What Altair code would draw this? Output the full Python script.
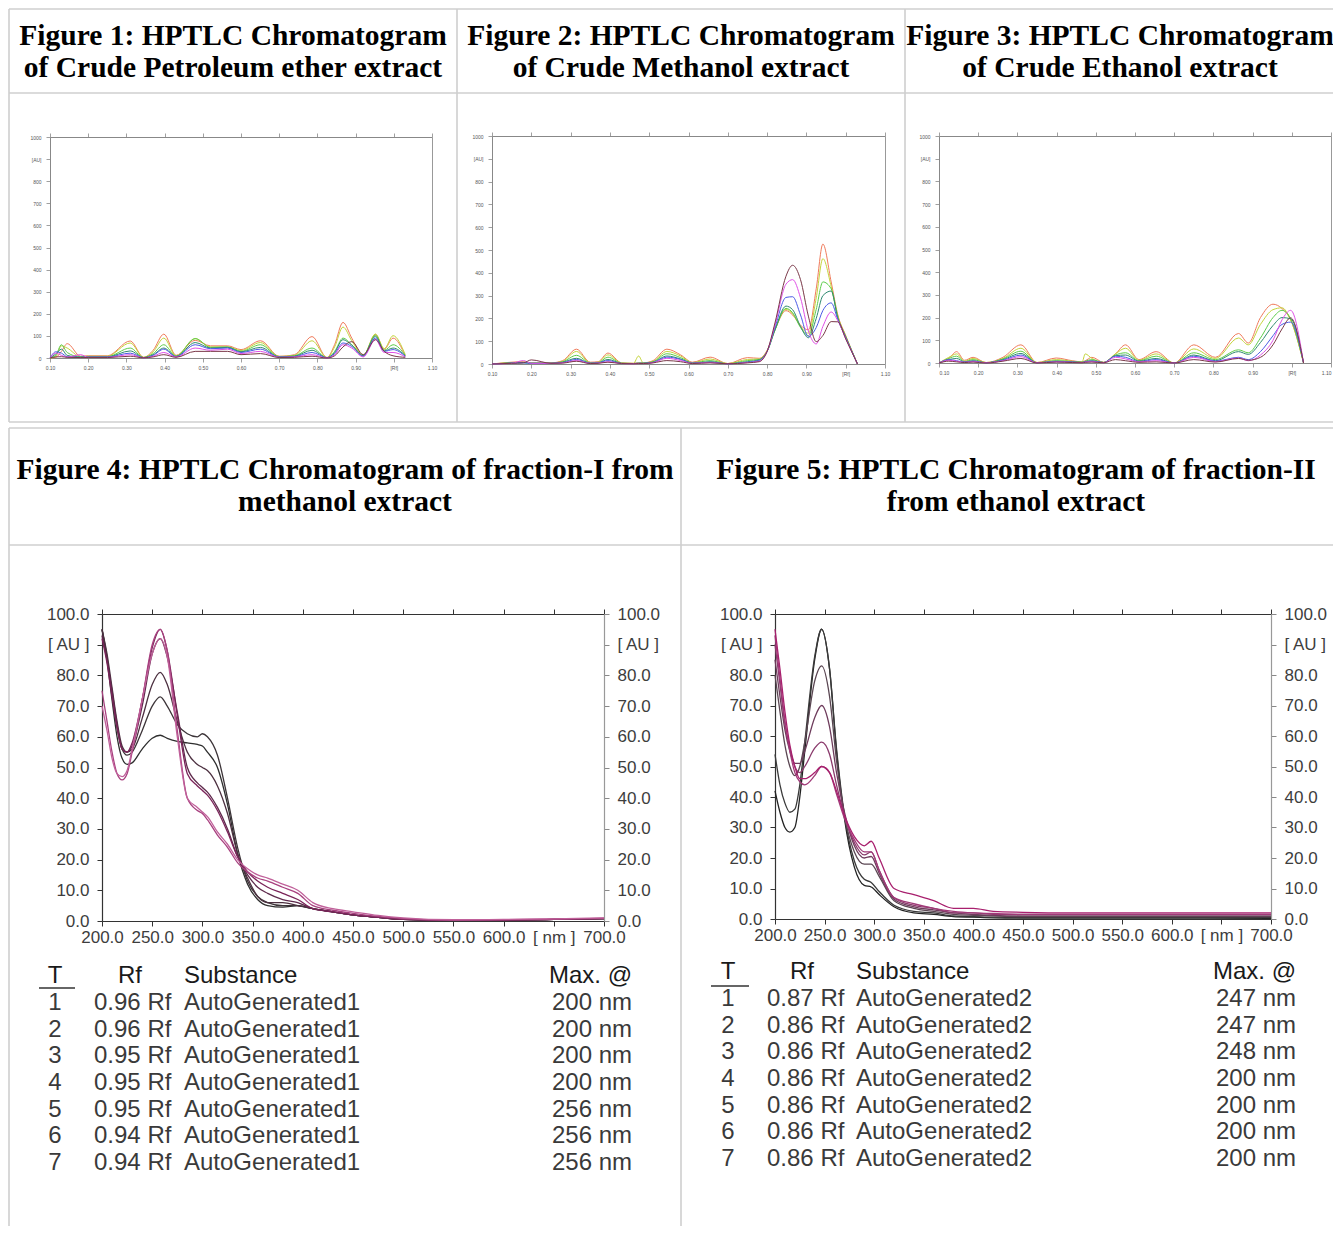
import altair as alt
import pandas as pd

W, H = 1325, 1218
SERIF = "Liberation Serif"
SANS = "Liberation Sans"
GRID = "#cfcfcf"

# ---------------- titles ----------------
title_fig1 = ["Figure 1: HPTLC Chromatogram", "of Crude Petroleum ether extract"]
title_fig2 = ["Figure 2: HPTLC Chromatogram", "of Crude Methanol extract"]
title_fig3 = ["Figure 3: HPTLC Chromatogram", "of Crude Ethanol extract"]
title_fig4 = ["Figure 4: HPTLC Chromatogram of fraction-I from", "methanol extract"]
title_fig5 = ["Figure 5: HPTLC Chromatogram of fraction-II", "from ethanol extract"]

# ---------------- chromatogram tracks ----------------
tracks7 = ["orange", "yellowgreen", "green", "teal", "blue", "magenta", "brown"]
track_colors = ["#f07a5a", "#c4d43a", "#5ccc4a", "#2f8a70", "#4a5ae6", "#e050e6", "#7a3848"]

# Figure 1: crude petroleum ether extract
rf1 = [0.10, 0.115, 0.13, 0.145, 0.18, 0.20, 0.25, 0.31, 0.345, 0.37, 0.398, 0.43, 0.48, 0.52,
       0.565, 0.60, 0.651, 0.70, 0.74, 0.786, 0.825, 0.845, 0.867, 0.89, 0.92, 0.952, 0.975, 0.998, 1.03]
pe_orange = [0, 3, 30, 65, 8, 10, 10, 77, 3, 35, 108, 12, 80, 55, 55, 38, 78, 8, 15, 97, 2, 60, 161, 90, 10, 106, 40, 90, 10]
pe_yellowgreen = [0, 6, 55, 45, 6, 8, 8, 68, 3, 28, 90, 10, 88, 50, 50, 34, 70, 7, 12, 78, 2, 50, 140, 78, 12, 109, 42, 101, 15]
pe_green = [0, 12, 60, 25, 5, 6, 6, 45, 2, 20, 60, 8, 88, 48, 50, 30, 60, 6, 10, 45, 1, 30, 90, 60, 12, 103, 35, 60, 12]
pe_teal = [0, 18, 40, 12, 4, 5, 5, 32, 2, 15, 45, 7, 70, 45, 48, 28, 48, 5, 8, 35, 1, 25, 83, 58, 10, 98, 32, 45, 10]
pe_blue = [0, 28, 22, 6, 3, 4, 4, 22, 1, 12, 40, 6, 60, 42, 45, 25, 40, 4, 6, 25, 1, 20, 68, 52, 8, 90, 30, 38, 8]
pe_magenta = [0, 22, 12, 4, 15, 3, 3, 15, 1, 8, 25, 5, 45, 35, 40, 20, 30, 3, 5, 15, 0, 15, 60, 45, 5, 83, 25, 25, 5]
pe_brown = [0, 5, 6, 3, 2, 2, 2, 8, 1, 5, 15, 3, 30, 30, 30, 15, 20, 2, 3, 8, 0, 10, 50, 74, 15, 83, 30, 10, 3]

# Figure 2: crude methanol extract
rf2 = [0.10, 0.15, 0.18, 0.20, 0.25, 0.28, 0.315, 0.35, 0.37, 0.395, 0.43, 0.46, 0.473, 0.485, 0.51,
       0.545, 0.58, 0.61, 0.655, 0.70, 0.75, 0.78, 0.80, 0.82, 0.848, 0.865, 0.885, 0.905, 0.925,
       0.942, 0.963, 0.98, 1.00, 1.03]
me_orange = [0, 8, 10, 5, 5, 15, 65, 8, 10, 48, 5, 3, 5, 5, 15, 65, 40, 8, 30, 2, 28, 25, 60, 150, 234, 215, 170, 150, 330, 526, 360, 215, 125, 0]
me_yellowgreen = [0, 6, 8, 4, 4, 12, 55, 6, 8, 40, 4, 3, 35, 5, 12, 55, 35, 6, 22, 2, 20, 22, 58, 150, 240, 220, 165, 135, 290, 462, 340, 210, 122, 0]
me_green = [0, 5, 6, 4, 4, 10, 38, 5, 6, 30, 3, 2, 4, 4, 10, 45, 28, 5, 15, 1, 15, 20, 55, 148, 244, 225, 160, 125, 240, 360, 330, 205, 120, 0]
me_teal = [0, 4, 6, 3, 3, 8, 25, 4, 5, 20, 3, 2, 3, 3, 8, 35, 22, 4, 10, 1, 10, 18, 55, 150, 254, 238, 165, 115, 200, 300, 320, 200, 118, 0]
me_blue = [0, 4, 5, 3, 3, 6, 20, 3, 5, 15, 2, 2, 3, 3, 7, 30, 20, 3, 8, 1, 8, 15, 55, 160, 292, 295, 215, 120, 160, 235, 268, 195, 115, 0]
me_magenta = [0, 3, 15, 3, 3, 5, 15, 3, 4, 10, 2, 1, 2, 2, 6, 25, 15, 3, 6, 1, 6, 12, 55, 170, 350, 370, 290, 145, 88, 165, 228, 190, 112, 0]
me_brown = [0, 3, 5, 18, 3, 4, 12, 2, 3, 8, 2, 1, 2, 2, 5, 15, 10, 2, 5, 1, 5, 10, 55, 180, 385, 433, 370, 210, 98, 125, 186, 185, 110, 0]

# Figure 3: crude ethanol extract
rf3 = [0.10, 0.125, 0.145, 0.165, 0.187, 0.22, 0.263, 0.309, 0.35, 0.399, 0.44, 0.465, 0.473, 0.49,
       0.52, 0.55, 0.576, 0.61, 0.654, 0.70, 0.75, 0.805, 0.864, 0.889, 0.92, 0.952, 0.975, 0.997, 1.03]
et_orange = [0, 20, 50, 12, 25, 2, 25, 80, 2, 22, 10, 5, 10, 25, 3, 40, 80, 15, 50, 0, 80, 25, 130, 88, 200, 259, 240, 190, 0]
et_yellowgreen = [0, 25, 40, 8, 20, 2, 20, 65, 2, 15, 8, 4, 40, 20, 3, 40, 65, 12, 40, 0, 62, 20, 110, 80, 170, 235, 243, 190, 0]
et_green = [0, 20, 30, 6, 15, 1, 18, 52, 1, 10, 6, 3, 8, 15, 2, 35, 45, 10, 30, 0, 45, 15, 58, 45, 110, 200, 232, 195, 0]
et_teal = [0, 15, 20, 5, 10, 1, 15, 42, 1, 8, 5, 3, 6, 10, 2, 32, 35, 8, 20, 0, 35, 10, 50, 38, 90, 165, 200, 195, 0]
et_blue = [0, 15, 10, 4, 8, 1, 12, 35, 1, 6, 4, 2, 5, 8, 2, 30, 25, 6, 15, 0, 30, 8, 25, 15, 50, 120, 170, 180, 0]
et_magenta = [0, 12, 8, 3, 6, 1, 10, 28, 1, 5, 3, 2, 4, 6, 1, 25, 18, 5, 10, 0, 25, 6, 22, 10, 35, 100, 190, 232, 0]
et_brown = [0, 8, 5, 2, 4, 0, 8, 20, 0, 4, 2, 1, 3, 4, 1, 15, 10, 3, 5, 0, 15, 4, 20, 12, 25, 80, 150, 199, 0]

# ---------------- UV spectra ----------------
spec_tracks = ["T1", "T2", "T3", "T4", "T5", "T6", "T7"]
fig4_colors = ["#2e2e2e", "#3c3438", "#4c3040", "#5e2a4c", "#7a2459", "#a8407f", "#c0609a"]
fig5_colors = ["#222222", "#3a3a3a", "#5a4652", "#6e3c5c", "#8a3a6c", "#a03a78", "#a8206e"]

nm4 = [200, 205, 210, 215, 220, 225, 230, 240, 250, 258, 265, 275, 285, 295, 300, 305, 315, 325, 335,
       345, 355, 365, 380, 395, 410, 430, 450, 475, 500, 550, 600, 650, 700]
f4_T1 = [95, 85, 72, 60, 53, 51, 51.5, 56, 59.5, 60.5, 59.5, 58.5, 58, 57.5, 57, 55, 50, 38, 22, 12, 7, 5, 4.5, 5, 4, 3, 2, 1.2, 0.5, 0.2, 0.3, 0.5, 0.8]
f4_T2 = [95, 86, 74, 63, 56, 54, 55, 62, 70, 73, 70, 64, 61, 60, 61, 60, 54, 40, 24, 13, 8, 6, 5, 5, 4, 3, 2, 1.2, 0.5, 0.2, 0.3, 0.5, 0.8]
f4_T3 = [95, 87, 76, 65, 57, 55, 56, 66, 77, 81, 77, 65, 55, 51, 50, 49, 44, 35, 22, 14, 8, 6, 6, 5, 4, 3, 2, 1.2, 0.5, 0.2, 0.3, 0.5, 0.8]
f4_T4 = [93, 85, 75, 64, 56, 55, 57, 70, 87, 92, 86, 68, 50, 45, 43.5, 42, 37, 30, 21, 15, 11, 9, 7, 6, 4, 3, 2, 1.2, 0.5, 0.2, 0.3, 0.5, 0.8]
f4_T5 = [92, 84, 73, 63, 56, 55, 58, 72, 89, 95, 88, 67, 48, 44, 42.5, 41, 36, 29, 21, 16, 13, 11, 9, 7, 4, 3, 2, 1.2, 0.5, 0.2, 0.3, 0.5, 0.8]
f4_T6 = [75, 65, 55, 48, 46, 48, 55, 72, 90, 95, 88, 62, 40, 36, 35, 33, 28, 24, 19, 16, 14, 13, 11, 9, 5, 3.5, 2.5, 1.5, 0.8, 0.3, 0.4, 0.6, 0.9]
f4_T7 = [70, 62, 53, 48, 47, 49, 56, 72, 87, 92, 86, 60, 40, 37, 35.5, 34, 29, 25, 20, 17, 15, 14, 12, 10, 6, 4, 3, 1.8, 1, 0.4, 0.5, 0.7, 1]

nm5 = [200, 205, 210, 215, 220, 225, 230, 240, 247, 255, 262, 270, 280, 290, 297, 305, 320, 340, 360,
       380, 400, 420, 450, 500, 600, 700]
f5_T1 = [42, 35, 30, 28.5, 30, 40, 55, 85, 95, 82, 55, 33, 17, 11, 10.5, 8, 4, 2, 1.5, 0.8, 0.6, 0.4, 0.3, 0.3, 0.3, 0.2]
f5_T2 = [54, 44, 38, 35, 36, 44, 58, 86, 95, 82, 56, 34, 19, 13, 12, 9, 4.5, 2.5, 2, 1, 0.8, 0.6, 0.5, 0.5, 0.5, 0.5]
f5_T3 = [80, 68, 57, 50, 47, 50, 58, 78, 83, 73, 52, 34, 22, 18, 18, 14, 6, 3.5, 2.5, 1.5, 1.2, 1, 0.8, 0.8, 0.8, 0.8]
f5_T4 = [85, 73, 62, 55, 51, 51, 55, 66, 70, 63, 48, 35, 24, 20, 20.5, 15, 6.5, 4, 3, 2, 1.5, 1.2, 1, 1, 1, 1]
f5_T5 = [90, 77, 64, 56, 50, 48, 50, 56, 58, 54, 44, 34, 25, 21, 22, 16, 7, 4.5, 3.5, 2, 2, 1.5, 1.5, 1.5, 1.5, 1.5]
f5_T6 = [93, 79, 65, 55, 48, 45, 44, 47, 50, 48, 41, 33, 26, 22, 22, 16, 7, 5, 3.5, 2.5, 2, 1.8, 1.5, 1.5, 1.5, 1.5]
f5_T7 = [95, 82, 68, 57, 50, 46, 46, 48, 50, 48, 42, 34, 27, 24, 25.5, 20, 10, 8, 6, 3.5, 3.5, 2.5, 2.2, 2, 2, 2]

# ---------------- result tables ----------------
tbl_header = ["T", "Rf", "Substance", "Max. @"]
tbl4_T = [1, 2, 3, 4, 5, 6, 7]
tbl4_rf = [0.96, 0.96, 0.95, 0.95, 0.95, 0.94, 0.94]
tbl4_sub = ["AutoGenerated1"] * 7
tbl4_max = [200, 200, 200, 200, 256, 256, 256]
tbl5_T = [1, 2, 3, 4, 5, 6, 7]
tbl5_rf = [0.87, 0.86, 0.86, 0.86, 0.86, 0.86, 0.86]
tbl5_sub = ["AutoGenerated2"] * 7
tbl5_max = [247, 247, 248, 200, 200, 200, 200]


def long_df(xs, names, series):
    rows = []
    for name, ys in zip(names, series):
        for x, y in zip(xs, ys):
            rows.append({"x": x, "y": y, "track": name})
    return pd.DataFrame(rows)


one = pd.DataFrame({"a": [0]})


def rule(x1, y1, x2, y2, color=GRID, w=1.6):
    return alt.Chart(one).mark_rule(color=color, strokeWidth=w).encode(
        x=alt.value(x1), x2=alt.value(x2), y=alt.value(y1), y2=alt.value(y2))


def label(text, x, y, size, font=SANS, weight="normal", align="center", color="#000"):
    return alt.Chart(pd.DataFrame({"t": [text]})).mark_text(
        font=font, fontSize=size, fontWeight=weight, align=align, baseline="middle", color=color
    ).encode(x=alt.value(x), y=alt.value(y), text="t:N")


def panel(df, xdom, ydom, box, xvals, yvals, xexpr, yexpr, colors, big, flush=False):
    x0, x1, yt, yb = box
    xs = alt.Scale(domain=xdom, range=[x0, x1], nice=False, zero=False)
    ys = alt.Scale(domain=ydom, range=[yb, yt], nice=False, zero=False)
    if big:
        st = dict(tickSize=5, labelFont=SANS, labelFontSize=17, labelColor="#3d3d3d",
                  tickColor="#333", domainColor="#333", grid=False, title=None,
                  labelOverlap=False, domainWidth=1.2, tickWidth=1)
        stR = dict(st, tickColor="#888", domainColor="#999")
        xpad, ypad, lw = 3, 8, 1.3
    else:
        st = dict(tickSize=4, labelFont=SANS, labelFontSize=5, labelColor="#555",
                  tickColor="#888", domainColor="#888", grid=False, title=None,
                  labelOverlap=False, domainWidth=1, tickWidth=0.8)
        stR = dict(st, domainColor="#999")
        xpad, ypad, lw = 3, 5, 1.0
    ax_b = alt.Axis(orient="bottom", offset=yb - H, values=xvals, labelExpr=xexpr, labelPadding=xpad,
                    labelFlush=flush, **st)
    ax_l = alt.Axis(orient="left", offset=-x0, values=yvals, labelExpr=yexpr, labelPadding=ypad,
                    labelFlush=False, **st)
    ax_t = alt.Axis(orient="top", offset=-yt, values=xvals, labels=False, **st)
    if big:
        ax_r = alt.Axis(orient="right", offset=x1 - W, values=yvals, labelExpr=yexpr, labelPadding=ypad,
                        labelFlush=False, **stR)
    else:
        ax_r = alt.Axis(orient="right", offset=x1 - W, ticks=False, labels=False, **stR)
    names = list(dict.fromkeys(df["track"]))
    lines = alt.Chart(df).mark_line(interpolate="monotone", strokeWidth=lw).encode(
        x=alt.X("x:Q", scale=xs, axis=ax_b),
        y=alt.Y("y:Q", scale=ys, axis=ax_l),
        color=alt.Color("track:N", scale=alt.Scale(domain=names, range=colors), legend=None),
    )
    frame = alt.Chart(df).mark_line(opacity=0).encode(
        x=alt.X("x:Q", scale=xs, axis=ax_t),
        y=alt.Y("y:Q", scale=ys, axis=ax_r),
        detail="track:N",
    )
    return [lines, frame]


def table(T, rf, sub, mx, y_rows, y_head, xT, xRfHead, xRf, xSub, xMax, underline):
    df = pd.DataFrame({
        "T": T,
        "rf": [f"{v:.2f} Rf" for v in rf],
        "sub": sub,
        "mx": [f"{v} nm" for v in mx],
    })
    yenc = alt.Y("T:O", scale=alt.Scale(type="point", domain=T, range=y_rows, padding=0), axis=None)
    out = []
    for field, x, align in [("T", xT, "center"), ("rf", xRf, "left"), ("sub", xSub, "left"), ("mx", xMax, "right")]:
        out.append(alt.Chart(df).mark_text(font=SANS, fontSize=24, align=align, baseline="middle",
                                           color="#3a3a3a").encode(x=alt.value(x), y=yenc, text=f"{field}:N"))
    out.append(label(tbl_header[0], xT, y_head, 24, color="#1a1a1a"))
    out.append(label(tbl_header[1], xRfHead, y_head, 24, color="#1a1a1a"))
    out.append(label(tbl_header[2], xSub, y_head, 24, align="left", color="#1a1a1a"))
    out.append(label(tbl_header[3], xMax, y_head, 24, align="right", color="#1a1a1a"))
    ux0, ux1, uy = underline
    out.append(rule(ux0, uy, ux1, uy, color="#333", w=1.5))
    return out


layers = []

# table grid lines
layers += [
    rule(1, 1, W, 1), rule(1, 85, W, 85), rule(1, 414, W, 414),
    rule(1, 1, 1, 414), rule(449, 1, 449, 414), rule(897, 1, 897, 414),
    rule(1, 420, W, 420), rule(1, 537, W, 537),
    rule(1, 420, 1, H), rule(673, 420, 673, H),
]

# titles
TS = 29.5
for (l1, l2), cx, ys in [
    (title_fig1, 225, (28, 60)), (title_fig2, 673, (28, 60)), (title_fig3, 1112, (28, 60)),
    (title_fig4, 337, (462, 494)), (title_fig5, 1008, (462, 494)),
]:
    layers.append(label(l1, cx, ys[0], TS, font=SERIF, weight="bold"))
    layers.append(label(l2, cx, ys[1], TS, font=SERIF, weight="bold"))

# chromatograms
rf_ticks = [round(0.1 * i, 2) for i in range(1, 12)]
au_ticks = list(range(0, 1001, 100))
rf_expr = "abs(datum.value - 1) < 0.001 ? '[Rf]' : format(datum.value, '.2f')"
au_expr = "datum.value == 900 ? '[AU]' : format(datum.value, 'd')"

df1 = long_df(rf1, tracks7, [pe_orange, pe_yellowgreen, pe_green, pe_teal, pe_blue, pe_magenta, pe_brown])
df2 = long_df(rf2, tracks7, [me_orange, me_yellowgreen, me_green, me_teal, me_blue, me_magenta, me_brown])
df3 = long_df(rf3, tracks7, [et_orange, et_yellowgreen, et_green, et_teal, et_blue, et_magenta, et_brown])

layers += panel(df1, [0.1, 1.1], [0, 1000], (42, 424, 129, 350), rf_ticks, au_ticks, rf_expr, au_expr, track_colors, False)
layers += panel(df2, [0.1, 1.1], [0, 1000], (484, 877, 128, 356), rf_ticks, au_ticks, rf_expr, au_expr, track_colors, False)
layers += panel(df3, [0.1, 1.1], [0, 1000], (931, 1323, 128, 355), rf_ticks, au_ticks, rf_expr, au_expr, track_colors, False, flush=True)

# spectra
nm_ticks = list(range(200, 701, 50))
pct_ticks = list(range(0, 101, 10))
nm_expr = "datum.value == 650 ? '[ nm ]' : format(datum.value, '.1f')"
pct_expr = "datum.value == 90 ? '[ AU ]' : format(datum.value, '.1f')"

df4 = long_df(nm4, spec_tracks, [f4_T1, f4_T2, f4_T3, f4_T4, f4_T5, f4_T6, f4_T7])
df5 = long_df(nm5, spec_tracks, [f5_T1, f5_T2, f5_T3, f5_T4, f5_T5, f5_T6, f5_T7])

layers += panel(df4, [200, 700], [0, 100], (94, 596, 606, 913), nm_ticks, pct_ticks, nm_expr, pct_expr, fig4_colors, True)
layers += panel(df5, [200, 700], [0, 100], (767, 1263, 606, 911), nm_ticks, pct_ticks, nm_expr, pct_expr, fig5_colors, True)

# tables
layers += table(tbl4_T, tbl4_rf, tbl4_sub, tbl4_max, [995, 1155], 968, 47, 122, 86, 176, 624, (31, 67, 980))
layers += table(tbl5_T, tbl5_rf, tbl5_sub, tbl5_max, [991, 1151], 964, 720, 794, 759, 848, 1288, (703, 741, 978))

chart = alt.layer(*layers).resolve_scale(
    x="independent", y="independent", color="independent"
).properties(
    width=W, height=H, padding=0, background="white",
    autosize=alt.AutoSizeParams(type="none"),
).configure_view(stroke=None)

chart.save("out.html", embed_options={"renderer": "svg", "actions": False})
